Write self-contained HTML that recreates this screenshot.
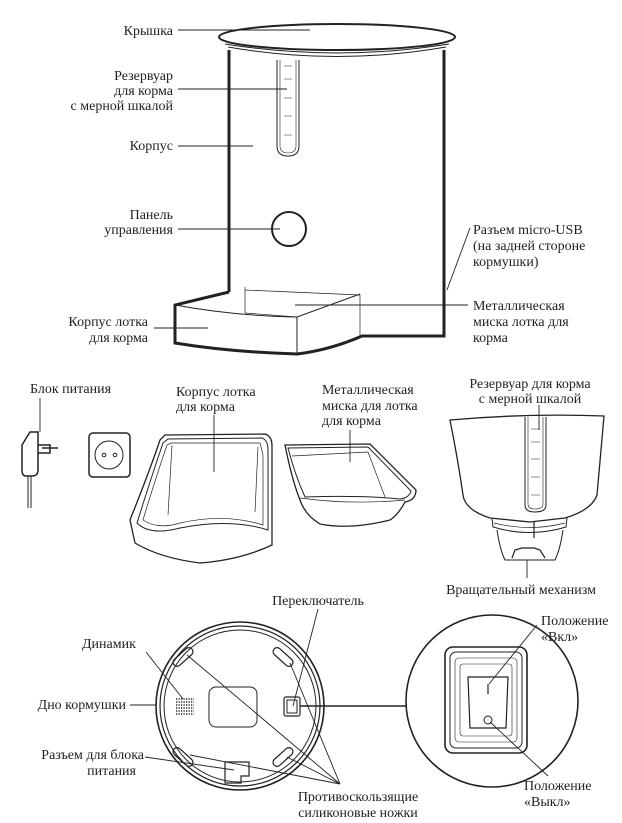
<!DOCTYPE html>
<html><head><meta charset="utf-8"><style>
html,body{margin:0;padding:0;background:#fff}
svg{display:block}
text{font-family:"Liberation Serif",serif;font-size:14px;fill:#222}
</style></head><body>
<svg width="622" height="823" viewBox="0 0 622 823" xmlns="http://www.w3.org/2000/svg">
<g fill="none" stroke="#222" stroke-width="1">
<path d="M229 292 V50" stroke-width="3"/>
<path d="M444 50 V336 Q405 336 362 336" stroke-width="3"/>
<ellipse cx="337" cy="37" rx="118" ry="13" stroke-width="2" fill="#fff"/>
<path d="M225 44 Q337 62 449 44" stroke-width="1"/>
<path d="M228 47 Q337 66 446 47" stroke-width="1"/>
<path d="M277 60 V146 Q277 156 288 156 Q299 156 299 146 V60"/>
<path d="M280 60 V146 Q280 153 288 153 Q296 153 296 146 V60" stroke-width="0.6"/>
<g stroke-width="0.6"><path d="M284 66h8M284 79h8M284 98h8M284 116h8M284 135h8"/></g>
<circle cx="289" cy="229" r="17" stroke-width="2"/>
<path d="M229 292 L175 305 V343 Q230 352 297 354 Q330 350 362 336 H380" stroke-width="3"/>
<path d="M175 305 Q235 316 297 317 L360 294"/>
<path d="M297 317 V354"/>
<path d="M245 287 V313 M245 290 L360 295 V336 M245 313 L297 317" stroke-width="0.7"/>
<path d="M22 445 L30 432 H38 V470 Q38 476 32 476 H26 Q22 476 22 470 Z" stroke-width="1.5"/>
<path d="M38 445 H50 V453 H38 M42 448 H58" stroke-width="1.5"/>
<path d="M28 476 V508 M31 476 V508" stroke-width="1"/>
<rect x="89" y="433" width="41" height="44" rx="4" stroke-width="1.5"/>
<circle cx="109" cy="455" r="14"/>
<circle cx="104" cy="455" r="1.8"/><circle cx="115" cy="455" r="1.8"/>
<path d="M165 435 L265 434 Q272 436 272 446 L272 545 Q240 560 200 563 Q160 558 135 543 L130 520 Q150 470 160 440 Z" stroke-width="1.3"/>
<path d="M168 439 L262 438 Q268 440 268 450 L268 530 Q230 518 180 528 Q150 536 137 523 Q152 475 163 443 Z"/>
<path d="M171 443 L260 443 L263 455 L263 525 Q225 513 180 523 Q158 530 143 520 Q155 480 167 445 Z" stroke-width="0.7"/>
<path d="M172 445 L168 515 M258 447 L255 512" stroke-width="0.7"/>
<path d="M285 445 L370 444 L416 490 Q416 500 405 502 Q398 515 390 520 Q350 530 320 524 Q305 515 300 500 Q292 480 285 445 Z" stroke-width="1.3"/>
<path d="M288 448 L368 447 L411 491 Q409 498 400 499 Q360 495 305 497 Q295 475 288 448 Z"/>
<path d="M292 456 L368 452 L385 497 M300 498 Q350 505 405 500" stroke-width="0.7"/>
<path d="M450 420 Q530 413 604 416 Q600 460 597 495 Q592 510 565 518 L530 522 L490 518 Q465 510 463 495 Q458 460 450 420 Z" stroke-width="1.3"/>
<path d="M525 417 V505 Q525 512 535 512 Q546 512 546 505 V417"/>
<path d="M528 417 V504 Q528 509 535 509 Q543 509 543 504 V417" stroke-width="0.6"/>
<g stroke-width="0.6"><path d="M531 429h9M531 442h9M531 459h9M531 477h9M531 495h9"/></g>
<path d="M492 518 L493 527 Q530 538 566 527 L567 518"/>
<path d="M494 523 Q530 532 565 523" stroke-width="0.7"/>
<path d="M497 530 Q500 550 505 560 H555 Q560 550 563 530"/>
<path d="M512 558 L515 550 L522 548 H534 L540 550 L545 558" stroke-width="1.2"/>
<path d="M534 522 V538" stroke-width="1.2"/>
<circle cx="240" cy="706" r="84" stroke-width="1.6"/>
<circle cx="240" cy="706" r="80" stroke-width="1.2"/>
<circle cx="240" cy="706" r="76"/>
<rect x="209" y="687" width="48" height="40" rx="7"/>
<g stroke-width="1.2">
<rect x="-12" y="-4" width="24" height="8" rx="4" transform="translate(183 657) rotate(-42)"/>
<rect x="-12" y="-4" width="24" height="8" rx="4" transform="translate(283 657) rotate(42)"/>
<rect x="-12" y="-4" width="24" height="8" rx="4" transform="translate(183 757) rotate(42)"/>
<rect x="-12" y="-4" width="24" height="8" rx="4" transform="translate(283 757) rotate(-42)"/>
</g>
<path d="M176 699h18M176 702h18M176 705h18M176 708h18M176 711h18M176 714h18" stroke-dasharray="1.2 1.3" stroke-width="1.5"/>
<rect x="284" y="697" width="16" height="19" rx="2" stroke-width="1.2"/>
<rect x="287" y="700" width="10" height="13"/>
<path d="M225 762 H249 V776 H241 V783 H225 Z" stroke-width="1.2"/>
<path d="M300 706 H407" stroke-width="1.5"/>
<circle cx="492" cy="701" r="86" stroke-width="1.6"/>
<rect x="445" y="647" width="82" height="106" rx="8" stroke-width="1.6"/>
<rect x="450" y="652" width="72" height="96" rx="6"/>
<rect x="455" y="658" width="62" height="84" rx="4" stroke-width="0.6"/>
<rect x="460" y="664" width="52" height="72" rx="3" stroke-width="0.6"/>
<path d="M468 677 H508 L506 728 H470 Z" stroke-width="1.2"/>
<path d="M488 684 V694" stroke-width="1.2"/>
<circle cx="488" cy="720" r="4"/>
<g stroke-width="0.9">
<path d="M178 30 H310"/>
<path d="M178 89 H287"/>
<path d="M178 146 H253"/>
<path d="M178 229 H280"/>
<path d="M154 328 H208"/>
<path d="M470 228 L447 290"/>
<path d="M295 305 H468"/>
<path d="M40 398 V432"/>
<path d="M214 415 V472"/>
<path d="M350 430 V462"/>
<path d="M539 405 V430"/>
<path d="M527 560 V578"/>
<path d="M318 609 L293 706"/>
<path d="M146 652 L183 699"/>
<path d="M130 705 H156"/>
<path d="M145 757 L234 770"/>
<path d="M187 655 L340 784 M290 663 L340 784 M287 757 L340 784 M190 755 L340 784"/>
<path d="M537 625 L489 684"/>
<path d="M490 722 L548 776"/>
</g>
</g>
<g>
<text x="173" y="35" text-anchor="end">Крышка</text>
<text x="173" y="80" text-anchor="end">Резервуар</text>
<text x="173" y="95" text-anchor="end">для корма</text>
<text x="173" y="110" text-anchor="end">с мерной шкалой</text>
<text x="173" y="150" text-anchor="end">Корпус</text>
<text x="173" y="219" text-anchor="end">Панель</text>
<text x="173" y="234" text-anchor="end">управления</text>
<text x="148" y="326" text-anchor="end">Корпус лотка</text>
<text x="148" y="342" text-anchor="end">для корма</text>
<text x="473" y="234">Разъем micro-USB</text>
<text x="473" y="250">(на задней стороне</text>
<text x="473" y="266">кормушки)</text>
<text x="473" y="310">Металлическая</text>
<text x="473" y="326">миска лотка для</text>
<text x="473" y="342">корма</text>
<text x="30" y="393">Блок питания</text>
<text x="176" y="396">Корпус лотка</text>
<text x="176" y="411">для корма</text>
<text x="322" y="394">Металлическая</text>
<text x="322" y="410">миска для лотка</text>
<text x="322" y="425">для корма</text>
<text x="530" y="388" text-anchor="middle">Резервуар для корма</text>
<text x="530" y="403" text-anchor="middle">с мерной шкалой</text>
<text x="521" y="594" text-anchor="middle">Вращательный механизм</text>
<text x="318" y="605" text-anchor="middle">Переключатель</text>
<text x="82" y="648">Динамик</text>
<text x="126" y="709" text-anchor="end">Дно кормушки</text>
<text x="144" y="759" text-anchor="end">Разъем для блока</text>
<text x="136" y="775" text-anchor="end">питания</text>
<text x="358" y="801" text-anchor="middle">Противоскользящие</text>
<text x="358" y="817" text-anchor="middle">силиконовые ножки</text>
<text x="541" y="625">Положение</text>
<text x="541" y="641">«Вкл»</text>
<text x="524" y="790">Положение</text>
<text x="524" y="806">«Выкл»</text>
</g>
</svg>
</body></html>
